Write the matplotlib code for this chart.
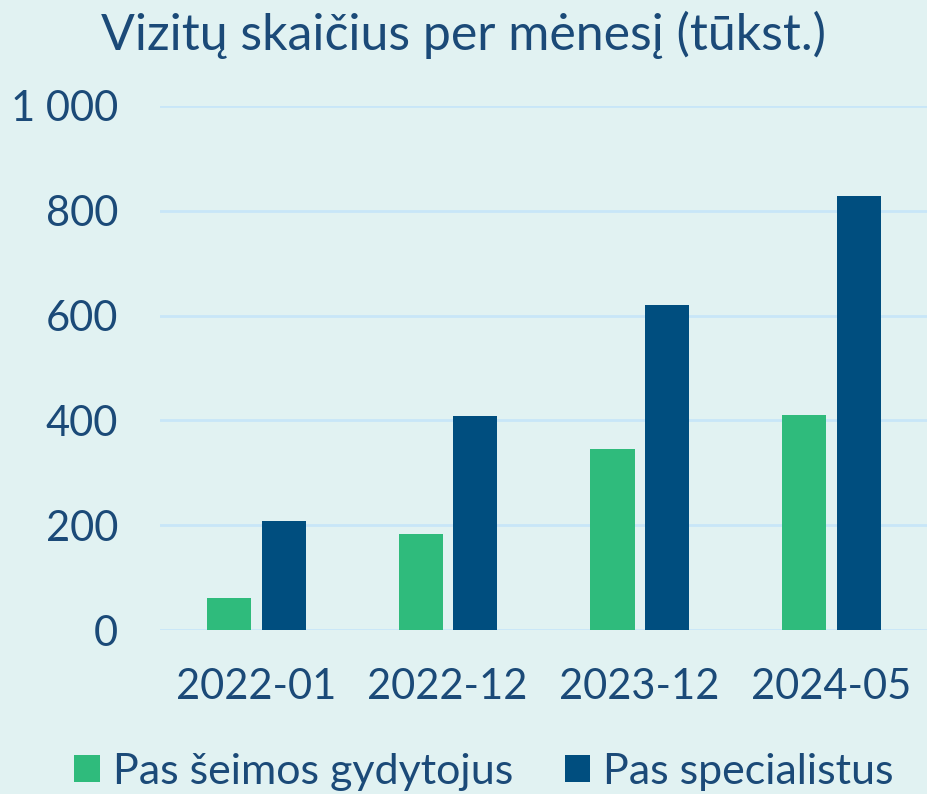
import matplotlib
matplotlib.use("Agg")
import matplotlib.pyplot as plt
import numpy as np

plt.rcParams["font.family"] = ["Lato", "DejaVu Sans"]

categories = ["2022-01", "2022-12", "2023-12", "2024-05"]
seimos = [61, 183, 345, 410]
specialistai = [208, 408, 620, 828]
series_names = ["Pas šeimos gydytojus", "Pas specialistus"]
yticks = [0, 200, 400, 600, 800, 1000]
ytick_labels = ["0", "200", "400", "600", "800", "1 000"]

bg = "#E1F2F2"
green = "#2FBB7C"
blue = "#004E7F"
txt = "#1B4A78"
grid = "#C8E6F8"

fig = plt.figure(figsize=(9.27, 7.94), dpi=100, facecolor=bg)
ax = fig.add_axes([0.1726, 0.2065, 0.8274, 0.66])
ax.set_facecolor(bg)

x = np.arange(len(categories))
w = 0.23
ax.bar(x - 0.14, seimos, w, color=green, label=series_names[0], zorder=3)
ax.bar(x + 0.145, specialistai, w, color=blue, label=series_names[1], zorder=3)

ax.set_xlim(-0.5, len(categories) - 0.5)
ax.set_ylim(0, 1000)
ax.set_yticks(yticks)
ax.set_yticklabels(ytick_labels)
ax.set_xticks(x)
ax.set_xticklabels(categories)
ax.grid(axis="y", color=grid, lw=2, zorder=0)
ax.tick_params(length=0, labelsize=30, labelcolor=txt)
ax.tick_params(axis="y", pad=30)
ax.tick_params(axis="x", pad=27)
for s in ax.spines.values():
    s.set_visible(False)

fig.text(0.5, 0.956, "Vizitų skaičius per mėnesį (tūkst.)", ha="center", va="center",
         fontsize=36, color=txt)

leg = fig.legend(loc="center", bbox_to_anchor=(0.522, 0.028), ncol=2, frameon=False,
                 fontsize=31, handlelength=0.6, handleheight=0.6, handletextpad=0.3,
                 columnspacing=1.2, borderaxespad=0)
for t in leg.get_texts():
    t.set_color(txt)

fig.savefig("out.png", dpi=100, facecolor=bg)
